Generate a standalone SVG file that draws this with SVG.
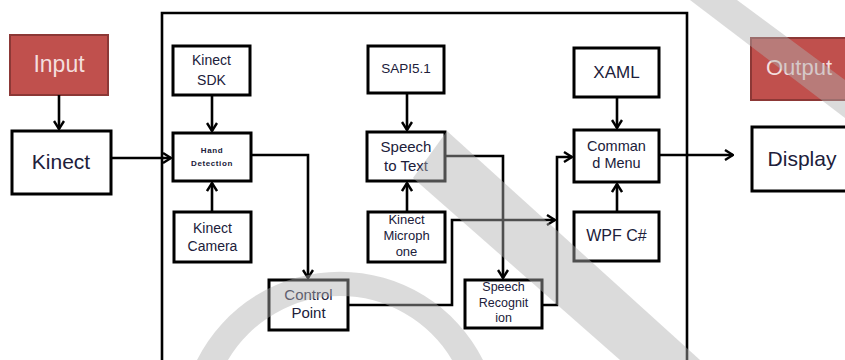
<svg xmlns="http://www.w3.org/2000/svg" width="845" height="360" viewBox="0 0 845 360">
  <style>
    .box { fill: #ffffff; stroke: #000000; stroke-width: 3; }
    .red { fill: #c0504d; stroke: #8c3836; stroke-width: 2; }
    .t { font-family: "Liberation Sans", Arial, sans-serif; fill: #20203a; text-anchor: middle; }
    .tw { font-family: "Liberation Sans", Arial, sans-serif; fill: #f4dede; text-anchor: middle; }
    .conn { fill: none; stroke: #000000; stroke-width: 2.6; }
    .wm { fill: #b0b0b0; opacity: 0.45; }
  </style>
  <defs>
    <marker id="arr" viewBox="0 0 10 12" refX="9" refY="6" markerWidth="10" markerHeight="12" markerUnits="userSpaceOnUse" orient="auto">
      <path d="M1,1 L9,6 L1,11" fill="none" stroke="#000" stroke-width="2.4"/>
    </marker>
  </defs>
  <rect width="845" height="360" fill="#ffffff"/>

  <g id="container">
    <path d="M162,362 L162,13 L687,13 L687,362" fill="none" stroke="#000" stroke-width="2.6"/>
  </g>

  <g id="input">
    <rect class="red" x="10" y="35" width="98" height="60"/>
    <text class="tw" x="59" y="72" font-size="23">Input</text>
  </g>
  <g id="kinect">
    <rect class="box" x="12" y="131" width="99" height="63"/>
    <text class="t" x="61" y="169" font-size="21">Kinect</text>
  </g>
  <g id="kinect-sdk">
    <rect class="box" x="173" y="46" width="77" height="49"/>
    <text class="t" x="211.5" y="65" font-size="14">Kinect</text>
    <text class="t" x="211.5" y="85" font-size="14">SDK</text>
  </g>
  <g id="hand-detection">
    <rect class="box" x="173" y="133" width="78" height="48"/>
    <text class="t" x="212" y="153" font-size="8" font-weight="bold" letter-spacing="0.6">Hand</text>
    <text class="t" x="212" y="166" font-size="8" font-weight="bold" letter-spacing="0.6">Detection</text>
  </g>
  <g id="kinect-camera">
    <rect class="box" x="174" y="212" width="77" height="50"/>
    <text class="t" x="212.5" y="233" font-size="14">Kinect</text>
    <text class="t" x="212.5" y="251" font-size="14">Camera</text>
  </g>
  <g id="control-point">
    <rect class="box" x="269" y="280" width="79" height="50"/>
    <text class="t" x="308.5" y="300" font-size="15">Control</text>
    <text class="t" x="308.5" y="318" font-size="15">Point</text>
  </g>
  <g id="sapi">
    <rect class="box" x="368" y="46" width="76" height="47"/>
    <text class="t" x="406" y="73" font-size="13.5">SAPI5.1</text>
  </g>
  <g id="speech-to-text">
    <rect class="box" x="367" y="132" width="78" height="49"/>
    <text class="t" x="406" y="152" font-size="15">Speech</text>
    <text class="t" x="406" y="171" font-size="15">to Text</text>
  </g>
  <g id="kinect-microphone">
    <rect class="box" x="368" y="212" width="77" height="50"/>
    <text class="t" x="406.5" y="224" font-size="13">Kinect</text>
    <text class="t" x="406.5" y="240" font-size="13">Microph</text>
    <text class="t" x="406.5" y="256" font-size="13">one</text>
  </g>
  <g id="speech-recognition">
    <rect class="box" x="465" y="280" width="77" height="48"/>
    <text class="t" x="503.5" y="291" font-size="12.5">Speech</text>
    <text class="t" x="503.5" y="307" font-size="12.5">Recognit</text>
    <text class="t" x="503.5" y="322" font-size="12.5">ion</text>
  </g>
  <g id="xaml">
    <rect class="box" x="574" y="48" width="85" height="49"/>
    <text class="t" x="616.5" y="78" font-size="17">XAML</text>
  </g>
  <g id="command-menu">
    <rect class="box" x="574" y="130" width="85" height="52"/>
    <text class="t" x="616.5" y="151" font-size="14.5">Comman</text>
    <text class="t" x="616.5" y="168" font-size="14.5">d Menu</text>
  </g>
  <g id="wpf">
    <rect class="box" x="574" y="212" width="85" height="49"/>
    <text class="t" x="616.5" y="241" font-size="16">WPF C#</text>
  </g>
  <g id="output">
    <rect class="red" x="751" y="38" width="100" height="62"/>
    <text class="tw" x="799" y="75" font-size="22">Output</text>
  </g>
  <g id="display">
    <rect class="box" x="752" y="127" width="100" height="64"/>
    <text class="t" x="802" y="166" font-size="21">Display</text>
  </g>

  <g id="connectors">
    <path class="conn" d="M59,95 L59,129" marker-end="url(#arr)"/>
    <path class="conn" d="M111,158 L171,158" marker-end="url(#arr)"/>
    <path class="conn" d="M212,95 L212,131" marker-end="url(#arr)"/>
    <path class="conn" d="M212,212 L212,183" marker-end="url(#arr)"/>
    <path class="conn" d="M251,155 L308,155 L308,278" marker-end="url(#arr)"/>
    <path class="conn" d="M407,93 L407,130" marker-end="url(#arr)"/>
    <path class="conn" d="M407,212 L407,183" marker-end="url(#arr)"/>
    <path class="conn" d="M445,156 L503,156 L503,278" marker-end="url(#arr)"/>
    <path class="conn" d="M348,305 L452,305 L452,220 L555,220" marker-end="url(#arr)"/>
    <path class="conn" d="M541,305 L557,305 L557,157 L572,157" marker-end="url(#arr)"/>
    <path class="conn" d="M617,97 L617,128" marker-end="url(#arr)"/>
    <path class="conn" d="M617,212 L617,184" marker-end="url(#arr)"/>
    <path class="conn" d="M659,155 L733,155" marker-end="url(#arr)"/>
  </g>

  <g id="watermark">
    <path class="wm" d="M197,360 A160,160 0 0 1 483,360 L452,360 A130,130 0 0 0 228,360 Z"/>
    <polygon class="wm" points="413,178 447,131 700,360 620,360"/>
    <polygon class="wm" points="690,0 737,0 845,80 845,118"/>
  </g>
</svg>
